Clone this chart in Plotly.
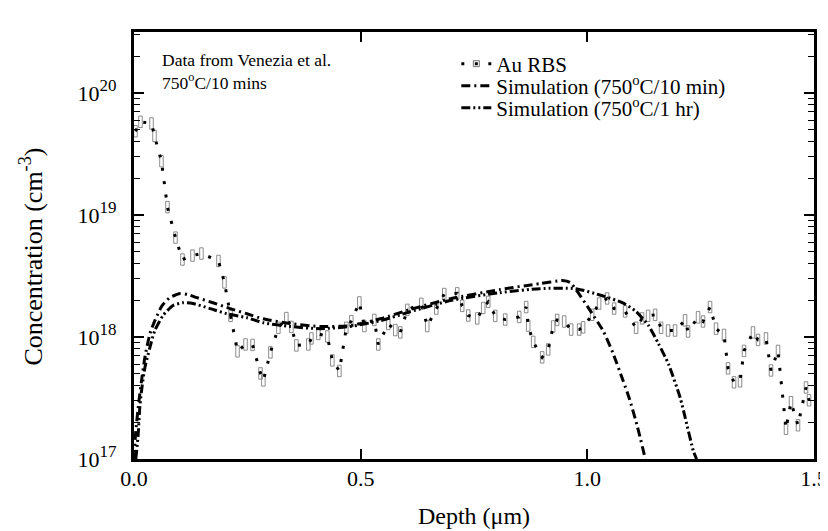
import plotly.graph_objects as go

# ---------------- data ----------------
# Au RBS measured profile: depth (um) and concentration (cm^-3)
depth_um = [0.0033, 0.0143, 0.0386, 0.0452, 0.0606, 0.0738, 0.0915, 0.1069, 0.1290, 0.1488,
            0.1863, 0.1995, 0.2130, 0.2284, 0.2460, 0.2615, 0.2791, 0.2854, 0.3009, 0.3185,
            0.3361, 0.3472, 0.3582, 0.3846, 0.3913, 0.4067, 0.4265, 0.4375, 0.4530, 0.4684,
            0.4794, 0.4971, 0.5081, 0.5301, 0.5389, 0.5609, 0.5764, 0.5874, 0.6029, 0.6337,
            0.6469, 0.6668, 0.6844, 0.7130, 0.7240, 0.7373, 0.7571, 0.7703, 0.7814, 0.7968,
            0.8188, 0.8497, 0.8651, 0.8695, 0.8805, 0.9004, 0.9136, 0.9246, 0.9334, 0.9489,
            0.9643, 0.9819, 0.9907, 1.0106, 1.0260, 1.0436, 1.0591, 1.0833, 1.1076, 1.1208,
            1.1340, 1.1495, 1.1627, 1.1781, 1.1935, 1.2156, 1.2222, 1.2442, 1.2552, 1.2707,
            1.2839, 1.3015, 1.3104, 1.3236, 1.3368, 1.3456, 1.3654, 1.3765, 1.3941, 1.4051,
            1.4206, 1.4382, 1.4493, 1.4647, 1.4824, 1.4890]
conc_cm3 = [4.86e19, 5.81e19, 5.63e19, 4.45e19, 2.76e19, 1.16e19, 6.53e18, 4.32e18, 4.65e18, 4.83e18,
            4.20e18, 2.80e18, 1.49e18, 7.63e17, 8.69e17, 8.61e17, 5.03e17, 4.41e17, 7.48e17, 1.19e18,
            1.43e18, 1.21e18, 8.53e17, 8.69e17, 9.73e17, 1.06e18, 1.01e18, 6.43e17, 5.27e17, 1.19e18,
            1.35e18, 1.92e18, 1.23e18, 1.38e18, 8.69e17, 1.28e18, 1.14e18, 1.09e18, 1.67e18, 1.87e18,
            1.23e18, 1.71e18, 2.25e18, 2.28e18, 1.80e18, 1.50e18, 1.42e18, 1.73e18, 1.94e18, 1.49e18,
            1.39e18, 1.46e18, 1.76e18, 1.24e18, 9.12e17, 6.81e17, 7.91e17, 1.22e18, 1.38e18, 1.34e18,
            1.15e18, 1.15e18, 1.20e18, 1.52e18, 1.88e18, 2.07e18, 1.71e18, 1.62e18, 1.19e18, 1.42e18,
            1.49e18, 1.52e18, 1.19e18, 1.13e18, 1.13e18, 1.37e18, 1.11e18, 1.45e18, 1.34e18, 1.76e18,
            1.17e18, 1.04e18, 5.53e17, 4.25e17, 4.33e17, 7.69e17, 1.09e18, 9.46e17, 9.73e17, 5.32e17,
            7.69e17, 1.77e17, 2.92e17, 1.89e17, 3.86e17, 3.03e17]

# Simulation, 750oC / 10 min
sim10_depth = [0.0, 0.004, 0.011, 0.018, 0.024, 0.035, 0.046, 0.062, 0.079, 0.102,
               0.119, 0.139, 0.174, 0.212, 0.249, 0.285, 0.344, 0.411, 0.477, 0.543,
               0.609, 0.698, 0.808, 0.896, 0.945, 0.962, 0.980, 1.002, 1.035, 1.057,
               1.079, 1.093, 1.110, 1.128]
sim10_conc = [1.0e17, 1.7e17, 3.0e17, 4.8e17, 6.8e17, 1.06e18, 1.36e18, 1.81e18, 2.10e18, 2.27e18,
              2.23e18, 2.10e18, 1.91e18, 1.71e18, 1.55e18, 1.41e18, 1.29e18, 1.22e18, 1.24e18, 1.41e18,
              1.68e18, 2.06e18, 2.45e18, 2.74e18, 2.90e18, 2.80e18, 2.30e18, 1.74e18, 1.12e18, 7.3e17,
              4.37e17, 3.1e17, 1.87e17, 1.0e17]

# Simulation, 750oC / 1 hr
sim1h_depth = [0.004, 0.009, 0.013, 0.018, 0.024, 0.035, 0.046, 0.064, 0.086, 0.108,
               0.130, 0.168, 0.205, 0.249, 0.285, 0.344, 0.411, 0.477, 0.543, 0.609,
               0.698, 0.808, 0.896, 0.974, 1.033, 1.077, 1.106, 1.135, 1.157, 1.179,
               1.205, 1.216, 1.234, 1.241]
sim1h_conc = [1.0e17, 1.55e17, 2.72e17, 3.98e17, 5.6e17, 8.2e17, 1.13e18, 1.50e18, 1.81e18, 1.91e18,
              1.88e18, 1.71e18, 1.55e18, 1.44e18, 1.31e18, 1.22e18, 1.17e18, 1.22e18, 1.36e18, 1.61e18,
              1.99e18, 2.31e18, 2.49e18, 2.49e18, 2.18e18, 1.91e18, 1.64e18, 1.24e18, 8.8e17, 6.0e17,
              3.16e17, 2.17e17, 1.16e17, 1.0e17]

y_tick_vals = [1e17, 1e18, 1e19, 1e20]
y_tick_exps = ["17", "18", "19", "20"]
y_minor_vals = [float(k) * 10.0 ** e for e in (17, 18, 19, 20) for k in range(2, 10)]
x_tick_vals = [0.0, 0.5, 1.0, 1.5]
x_tick_text = ["0.0", "0.5", "1.0", "1.5"]

# ---------------- styling ----------------
FONT = "Liberation Serif"
BOX_HALF_W = 0.0039      # half width of the open data rectangles (um)
BOX_FACTOR = 1.114       # half height of the rectangles (multiplicative, log axis)

y_tick_text = ["10<sup><span style='font-size:17px'>%s</span></sup>" % e for e in y_tick_exps]

box_x, box_y = [], []
for d, c in zip(depth_um, conc_cm3):
    lo, hi = c / BOX_FACTOR, c * BOX_FACTOR
    box_x += [d - BOX_HALF_W, d + BOX_HALF_W, d + BOX_HALF_W, d - BOX_HALF_W, d - BOX_HALF_W, None]
    box_y += [lo, lo, hi, hi, lo, None]

DOT = "3px,10.5px"
fig = go.Figure()
fig.add_trace(go.Scatter(x=box_x, y=box_y, mode="lines", line=dict(color="#707070", width=0.8),
                         showlegend=False, hoverinfo="skip"))
fig.add_trace(go.Scatter(x=depth_um, y=conc_cm3, mode="lines",
                         line=dict(color="black", width=3, dash=DOT), showlegend=False))
fig.add_trace(go.Scatter(x=[None], y=[None], mode="lines+markers", name="Au RBS", legend="legend",
                         line=dict(color="black", width=3, dash=DOT),
                         marker=dict(symbol="square-open", size=6, color="#707070", line=dict(width=1))))
fig.add_trace(go.Scatter(x=sim10_depth, y=sim10_conc, mode="lines", legend="legend2",
                         name="Simulation (750<sup>o</sup>C/10 min)",
                         line=dict(color="black", width=3, dash="9px,4px,2px,4px", shape="spline", smoothing=0.6)))
fig.add_trace(go.Scatter(x=sim1h_depth, y=sim1h_conc, mode="lines", legend="legend3",
                         name="Simulation (750<sup>o</sup>C/1 hr)",
                         line=dict(color="black", width=3, dash="9px,3px,2px,3px,2px,3px", shape="spline", smoothing=0.6)))

fig.add_annotation(x=0.038, y=0.962, xref="paper", yref="paper", xanchor="left", yanchor="top",
                   align="left", showarrow=False,
                   text="Data from Venezia et al.<br>750<sup>o</sup>C/10 mins",
                   font=dict(family=FONT, size=17.5, color="black"))

# y-axis title (placed as a rotated annotation to match the reference position)
fig.add_annotation(x=-0.15, y=0.474, xref="paper", yref="paper", xanchor="center", yanchor="middle",
                   textangle=-90, showarrow=False,
                   text="Concentration (cm<sup>-3</sup>)",
                   font=dict(family=FONT, size=26, color="black"))

fig.update_xaxes(range=[0, 1.5], tickvals=x_tick_vals, ticktext=x_tick_text, automargin=False,
                 ticks="inside", ticklen=10, tickwidth=1.5, tickcolor="black", ticklabelstandoff=-2,
                 showline=True, linewidth=3, linecolor="black", mirror="allticks",
                 showgrid=False, zeroline=False,
                 tickfont=dict(family=FONT, size=22, color="black"),
                 title=dict(text="Depth (\u03bcm)", font=dict(family=FONT, size=24, color="black"), standoff=17))
fig.update_yaxes(type="log", range=[17, 20.5], tickvals=y_tick_vals, ticktext=y_tick_text, automargin=False,
                 ticks="inside", ticklen=10, tickwidth=1.5, tickcolor="black", ticklabelstandoff=10,
                 minor=dict(tickvals=y_minor_vals, ticks="inside", ticklen=6, tickwidth=1, tickcolor="black",
                            showgrid=False),
                 showline=True, linewidth=3, linecolor="black", mirror="allticks",
                 showgrid=False, zeroline=False,
                 tickfont=dict(family=FONT, size=22, color="black"))

leg_common = dict(x=0.474, xanchor="left", yanchor="middle", bgcolor="rgba(0,0,0,0)",
                  font=dict(family=FONT, size=21, color="black"))
fig.update_layout(width=828, height=531, margin=dict(l=126, r=22, t=24, b=80),
                  paper_bgcolor="white", plot_bgcolor="white",
                  font=dict(family=FONT, color="black"),
                  legend=dict(y=0.925, **leg_common),
                  legend2=dict(y=0.8735, **leg_common),
                  legend3=dict(y=0.822, **leg_common))

fig.write_html("out.html")
